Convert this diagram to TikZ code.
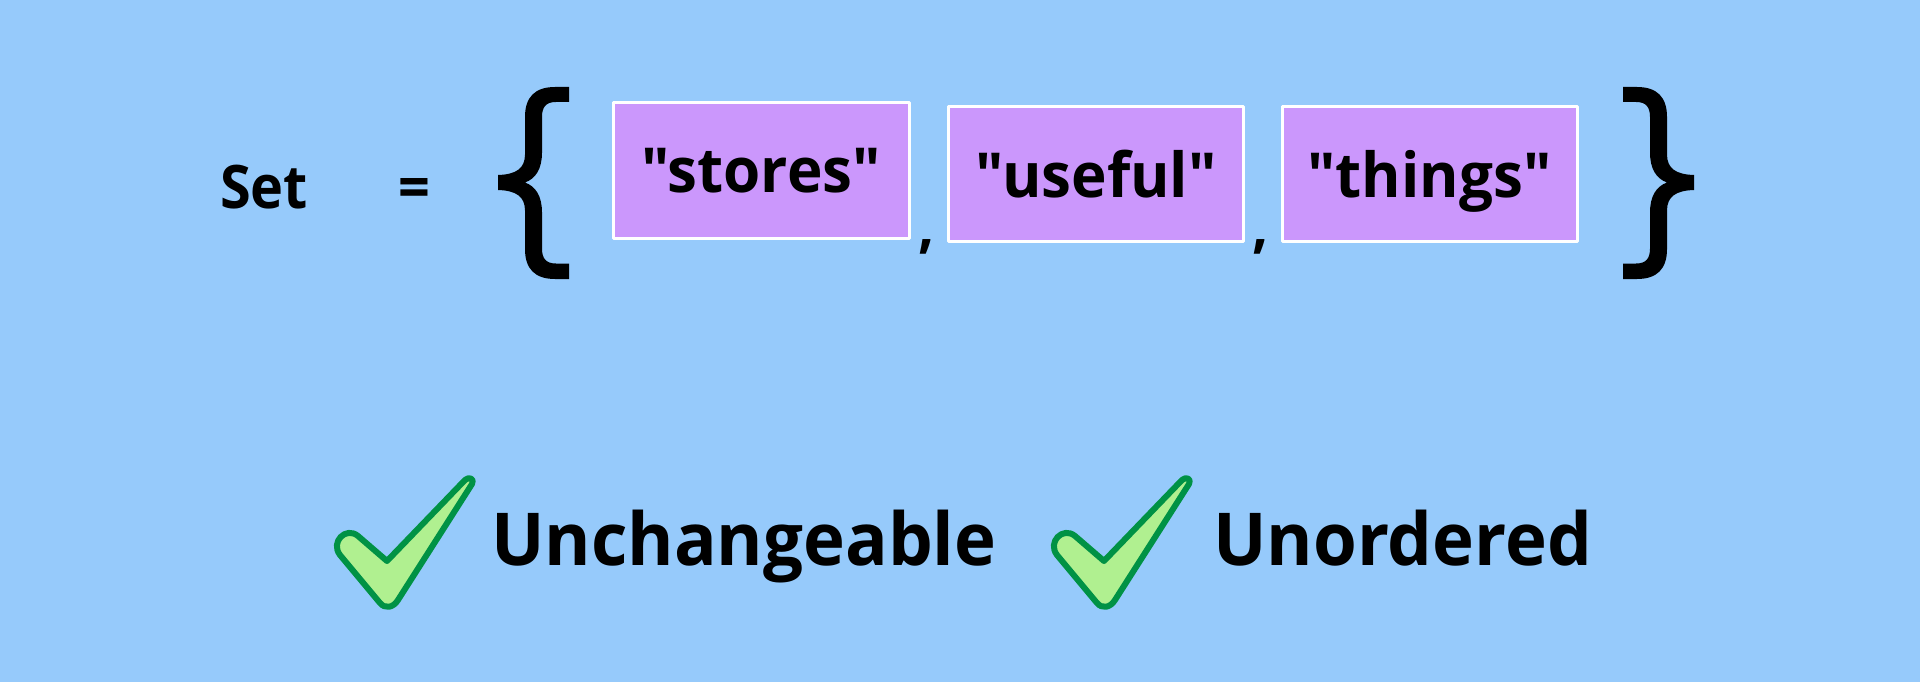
\documentclass[tikz,border=0pt]{standalone}
\usepackage{fontspec}
\setmainfont{Open Sans}[FakeStretch=0.93,Ligatures=TeXOff]
\newfontfamily\labelfont{Open Sans}[FakeStretch=0.97,Ligatures=TeXOff]
\definecolor{bgblue}{RGB}{150,202,251}
\definecolor{itempurple}{RGB}{203,151,252}
\definecolor{tickgreen}{RGB}{0,146,69}
\definecolor{tickfill}{RGB}{176,240,144}
% brace, origin at its middle tip, opening to the right
\newcommand{\bracepath}{(71,-95.5) -- (57,-95.5) .. controls (37,-95.5) and (27,-85.5) .. (27,-65.5) -- (27,-28) .. controls (27,-14) and (18,-8) .. (0,-7.5) -- (0,7.5) .. controls (18,8) and (27,14) .. (27,28) -- (27,66.5) .. controls (27,86.5) and (37,96.5) .. (57,96.5) -- (71,96.5) -- (71,81) -- (58,81) .. controls (48,81) and (44,76) .. (44,66) -- (44,30) .. controls (44,14) and (38,4) .. (27,0) .. controls (38,-4) and (44,-14) .. (44,-30) -- (44,-65.5) .. controls (44,-75.5) and (48,-80.5) .. (58,-80.5) -- (71,-80.5) -- cycle}
% tick mark, drawn at the first label
\newcommand{\tickpath}{(387,561) -- (465,480) .. controls (469,476) and (475,479) .. (472,484) -- (398,600) .. controls (393,608) and (385,609) .. (380,603) -- (340,555) .. controls (330,542) and (346,526) .. (358,536) -- cycle}
\begin{document}
\begin{tikzpicture}[x=1pt,y=-1pt,line join=round,line cap=round,
	bigtext/.style={inner sep=0pt,font=\fontsize{60}{72}\selectfont\bfseries},
	itembox/.style={inner sep=0pt,font=\fontsize{62}{74}\selectfont\labelfont\bfseries,draw=white,line width=3pt,fill=itempurple,minimum width=295pt,minimum height=134pt,text depth=0pt},
	ticklabel/.style={inner sep=0pt,anchor=base west,font=\fontsize{73}{88}\selectfont\labelfont\bfseries},
	tick/.style={draw=tickgreen,fill=tickfill,line width=6pt}]
	\fill[bgblue] (0,0) rectangle (1920,682);
	\useasboundingbox (0,0) rectangle (1920,682);
	\node[bigtext,anchor=base west] (set) at (220,208) {Set};
	\node[bigtext,anchor=base] (eq) at (414,208) {=};
	\fill[shift={(498,182.5)}] \bracepath;
	\fill[shift={(1694,182.5)},xscale=-1] \bracepath;
	\node[itembox,minimum width=296pt,minimum height=135pt] (stores) at (761,170.5) {"stores"};
	\node[itembox] (useful) at (1096,174) {"useful"};
	\node[itembox] (things) at (1429.5,174) {"things"};
	\node[bigtext,anchor=base] (comma1) at (927,246) {,};
	\node[bigtext,anchor=base] (comma2) at (1261,246) {,};
	\draw[tick] \tickpath;
	\draw[tick,shift={(717,0)}] \tickpath;
	\node[ticklabel] (unchangeable) at (491,565) {Unchangeable};
	\node[ticklabel] (unordered) at (1213,565) {Unordered};
\end{tikzpicture}
\end{document}
